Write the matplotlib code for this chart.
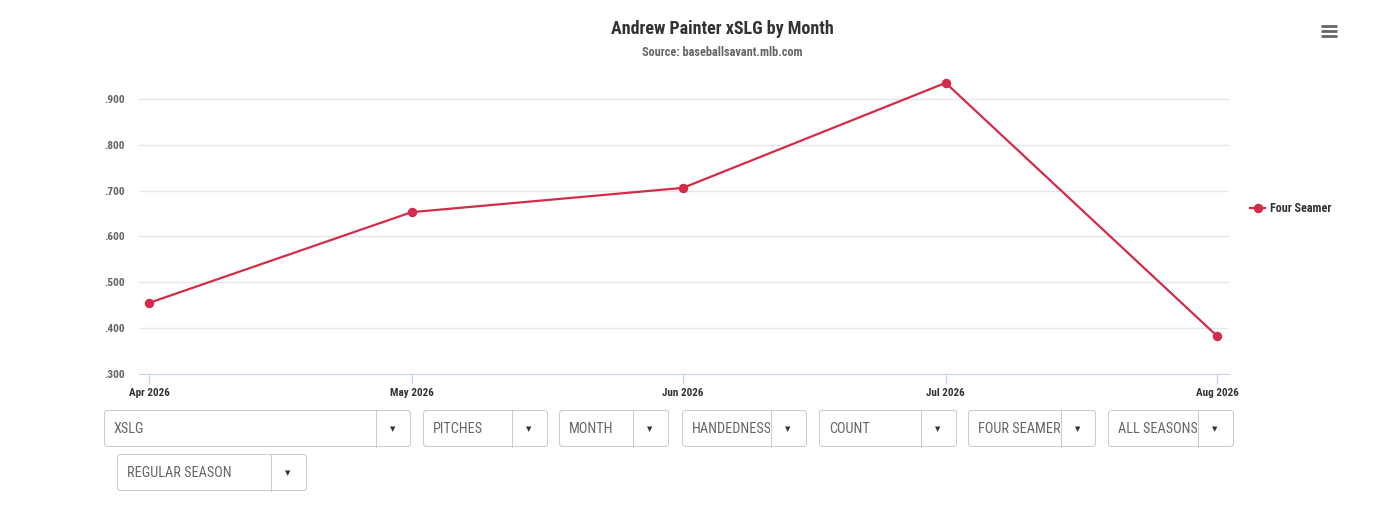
import numpy as np
import matplotlib
matplotlib.use("Agg")
import matplotlib.pyplot as plt
import matplotlib.dates as mdates
from matplotlib.patches import FancyBboxPatch
from matplotlib.lines import Line2D
from matplotlib.transforms import IdentityTransform, Bbox

plt.rcParams['font.family'] = ['Roboto Condensed', 'Liberation Sans Narrow', 'Roboto', 'DejaVu Sans']

# data
months = ['2026-04-01', '2026-05-01', '2026-06-01', '2026-07-01', '2026-08-01']
xslg = [0.455, 0.653, 0.706, 0.935, 0.383]
series_name = 'Four Seamer'
y_ticks = [0.3, 0.4, 0.5, 0.6, 0.7, 0.8, 0.9]
y_labels = ['.300', '.400', '.500', '.600', '.700', '.800', '.900']

dropdowns = ['XSLG', 'PITCHES', 'MONTH', 'HANDEDNESS', 'COUNT', 'FOUR SEAMER',
             'ALL SEASONS', 'REGULAR SEASON']
# (left, top, right, bottom, divider) in pixels
dd_boxes = [(104, 411, 410, 447, 375), (423, 411, 547, 447, 511),
            (559, 411, 668, 447, 632), (682, 411, 806, 447, 770),
            (819, 411, 956, 447, 920), (968, 411, 1095, 447, 1060),
            (1108, 411, 1233, 447, 1197), (117, 455, 306, 491, 270)]

W, H = 1399, 518
RED = '#d32b4a'

fig = plt.figure(figsize=(W / 100, H / 100), dpi=100)
fig.patch.set_facecolor('white')

ax = fig.add_axes([139 / W, (H - 374) / H, 1090 / W, (374 - 76) / H])
x = mdates.date2num(np.array(months, dtype='datetime64[D]'))
ax.plot(x, xslg, color=RED, lw=1.6, marker='o', ms=5.8, zorder=3)

ax.set_xlim(x[0] - 1.14, x[-1] + 1.37)
ax.set_ylim(0.3, 0.95)
ax.set_xticks(x)
ax.xaxis.set_major_formatter(mdates.DateFormatter('%b %Y'))
ax.set_yticks(y_ticks)
ax.set_yticklabels(y_labels)
ax.grid(axis='y', color='#e6e6e6', lw=1)
ax.set_axisbelow(True)
for s in ['top', 'right', 'left']:
    ax.spines[s].set_visible(False)
ax.spines['bottom'].set_color('#ccd6eb')
ax.tick_params(axis='x', colors='#ccd6eb', length=7, width=1, pad=3,
               labelcolor='#333333', labelsize=8)
ax.tick_params(axis='y', length=0, pad=10.5, labelcolor='#666666', labelsize=8.2)
for lab in ax.get_xticklabels() + ax.get_yticklabels():
    lab.set_fontweight('bold')

fig.text(722 / W, 1 - 29 / H, 'Andrew Painter xSLG by Month', ha='center', va='center',
         fontsize=13, fontweight='bold', color='#333333')
fig.text(722 / W, 1 - 52 / H, 'Source: baseballsavant.mlb.com', ha='center', va='center',
         fontsize=8.8, fontweight='bold', color='#666666')

# legend
fig.add_artist(Line2D([1250 / W, 1265 / W], [1 - 208 / H, 1 - 208 / H], color=RED, lw=1.6,
                      transform=fig.transFigure))
fig.add_artist(Line2D([1257.5 / W], [1 - 208 / H], color=RED, marker='o', ms=5.8,
                      transform=fig.transFigure))
fig.text(1270 / W, 1 - 209 / H, series_name, ha='left', va='center', fontsize=8.7,
         fontweight='bold', color='#333333')

# menu icon
for yy in [26, 31, 36]:
    fig.add_artist(Line2D([1321 / W, 1337 / W], [1 - yy / H, 1 - yy / H], color='#666666',
                          lw=2, transform=fig.transFigure, solid_capstyle='butt'))

# dropdown boxes under the chart
for name, (l, t, r, b, d) in zip(dropdowns, dd_boxes):
    box = FancyBboxPatch((l + 0.5, H - b + 0.5), r - l, b - t,
                         boxstyle='round,pad=0,rounding_size=3',
                         transform=IdentityTransform(), facecolor='white',
                         edgecolor='#cccccc', lw=0.75)
    fig.add_artist(box)
    fig.add_artist(Line2D([d + 0.5, d + 0.5], [H - b + 0.5, H - t + 0.5], color='#cccccc',
                          lw=0.75, transform=IdentityTransform()))
    txt = fig.text((l + 10) / W, 1 - (t + b) / 2 / H, name, ha='left', va='center',
                   fontsize=10.3, color='#666666')
    txt.set_clip_box(Bbox.from_extents(l, H - b, d, H - t))
    txt.set_clip_on(True)
    fig.text((d + r) / 2 / W, 1 - (t + b) / 2 / H, '\u25bc', ha='center', va='center',
             fontsize=5, color='#333333', family='DejaVu Sans')

fig.savefig('out.png', dpi=100)
